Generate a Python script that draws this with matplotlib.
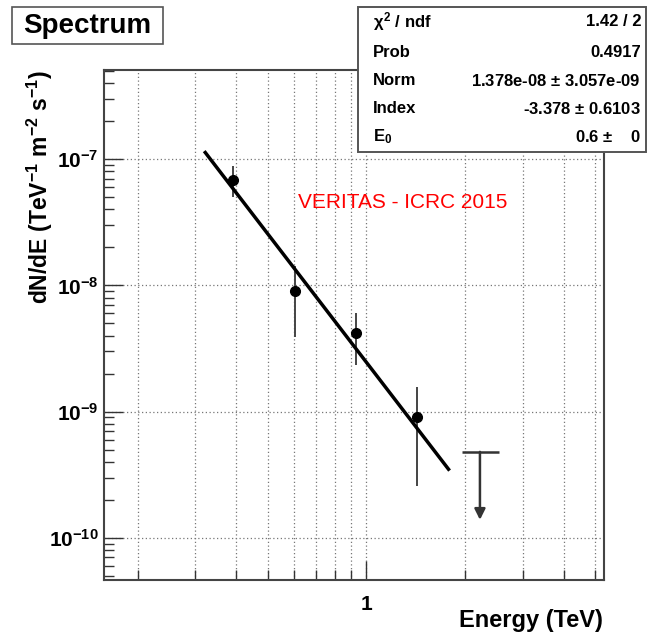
import numpy as np
import matplotlib
matplotlib.use('Agg')
import matplotlib.pyplot as plt
from matplotlib.patches import Rectangle
from matplotlib.ticker import LogLocator, NullFormatter, FixedLocator

plt.rcParams['font.family'] = ['Liberation Sans', 'DejaVu Sans']
plt.rcParams['font.weight'] = 'bold'
plt.rcParams['mathtext.fontset'] = 'custom'
plt.rcParams['mathtext.rm'] = 'Liberation Sans:bold'
plt.rcParams['mathtext.it'] = 'Liberation Sans:bold'
plt.rcParams['mathtext.bf'] = 'Liberation Sans:bold'

## Spectral points (TeV, TeV^-1 m^-2 s^-1)
energy = [0.392, 0.604, 0.930, 1.43]
flux = [6.8e-8, 9.1e-9, 4.2e-9, 9.0e-10]
flux_hi = [8.8e-8, 1.42e-8, 6.0e-9, 1.56e-9]
flux_lo = [5.0e-8, 3.9e-9, 2.36e-9, 2.6e-10]

## Upper limit
ul_energy = 2.22
ul_flux = 4.8e-10
ul_bar = [1.96, 2.54]
ul_tip = 1.39e-10

## Power-law fit
fit_norm = 1.378e-08
fit_index = -3.378
fit_e0 = 0.6
fit_range = [0.322, 1.78]

## Tick labels
x_ticks = [1]
x_ticklabels = ['1']
y_ticks = [1e-10, 1e-9, 1e-8, 1e-7]
y_ticklabels = [r'$10^{-10}$', r'$10^{-9}$', r'$10^{-8}$', r'$10^{-7}$']

stat_names = [r'$\chi^2$ / ndf', 'Prob', 'Norm', 'Index', r'E$_0$']
stat_values = ['1.42 / 2', '0.4917', r'1.378e-08 $\pm$ 3.057e-09',
               r'-3.378 $\pm$ 0.6103', r'0.6 $\pm$    0']

W, H = 648, 639
fig = plt.figure(figsize=(W / 100, H / 100), dpi=100)
ax = fig.add_axes([104 / W, 1 - 580 / H, (604 - 104) / W, (580 - 70) / H])

ax.set_xscale('log')
ax.set_yscale('log')
ax.set_xlim(0.158, 5.31)
ax.set_ylim(4.64e-11, 5.08e-7)

# grid: every x tick, only decades in y
ax.xaxis.set_major_locator(FixedLocator(x_ticks))
ax.set_xticklabels(x_ticklabels)
ax.xaxis.set_minor_locator(LogLocator(base=10, subs=np.arange(2, 10)))
ax.xaxis.set_minor_formatter(NullFormatter())
ax.yaxis.set_major_locator(FixedLocator(y_ticks))
ax.set_yticklabels(y_ticklabels)
ax.yaxis.set_minor_locator(LogLocator(base=10, subs=np.arange(2, 10)))
ax.yaxis.set_minor_formatter(NullFormatter())

gridstyle = dict(color='#777777', linestyle=(0, (1, 2)), linewidth=0.9)
ax.grid(True, which='major', axis='both', **gridstyle)
ax.grid(True, which='minor', axis='x', **gridstyle)
ax.set_axisbelow(True)

ax.tick_params(which='both', direction='in', top=False, right=False,
               colors='#333333', labelcolor='black', width=1.0)
ax.tick_params(which='major', length=14, labelsize=15)
ax.tick_params(which='minor', length=7)
ax.tick_params(axis='x', which='major', pad=11)
ax.tick_params(axis='y', which='major', pad=4)
for s in ax.spines.values():
    s.set_color('#444444')
    s.set_linewidth(1.5)

# data points
e = np.asarray(energy)
f = np.asarray(flux)
yerr = [f - np.asarray(flux_lo), np.asarray(flux_hi) - f]
ax.errorbar(e, f, yerr=yerr, fmt='o', color='black', ecolor='#444444',
            elinewidth=1.4, markersize=7, capsize=0, zorder=3)

# fit line
fe = np.asarray(fit_range)
ax.plot(fe, fit_norm * (fe / fit_e0) ** fit_index, color='black', lw=2.5, zorder=4)

# upper limit
ax.hlines(ul_flux, ul_bar[0], ul_bar[1], color='#333333', lw=1.8)
ax.annotate('', xy=(ul_energy, ul_tip), xytext=(ul_energy, ul_flux),
            arrowprops=dict(arrowstyle='-|>', color='#333333', lw=1.8,
                            mutation_scale=16, shrinkA=0, shrinkB=0))

fig.text(403 / W, 1 - 202 / H, 'VERITAS - ICRC 2015', color='red',
         fontsize=15, fontweight='normal', ha='center', va='center')

# axis titles
fig.text(603 / W, 1 - 620 / H, 'Energy (TeV)', fontsize=17, ha='right', va='center')
fig.text(40 / W, 1 - 70 / H, r'dN/dE (TeV$^{-1}$ m$^{-2}$ s$^{-1}$)', fontsize=16.5,
         rotation=90, ha='center', va='top')

# title box
fig.patches.append(Rectangle((12 / W, 1 - 44 / H), (163 - 12) / W, (44 - 7) / H,
                             transform=fig.transFigure, facecolor='white',
                             edgecolor='#555555', lw=1.2))
fig.text(87 / W, 1 - 26 / H, 'Spectrum', fontsize=20, ha='center', va='center')

# stats box
fig.patches.append(Rectangle((358 / W, 1 - 152 / H), (646 - 358) / W, (152 - 7) / H,
                             transform=fig.transFigure, facecolor='white',
                             edgecolor='#555555', lw=1.4, zorder=5))
row_y = [22, 52.5, 80.5, 108.5, 136.5]
for name, val, y in zip(stat_names, stat_values, row_y):
    fig.text(373 / W, 1 - y / H, name, fontsize=12, ha='left', va='center', zorder=6)
    fig.text(641 / W, 1 - y / H, val, fontsize=12, ha='right', va='center', zorder=6)

fig.savefig('out.png', dpi=100)
